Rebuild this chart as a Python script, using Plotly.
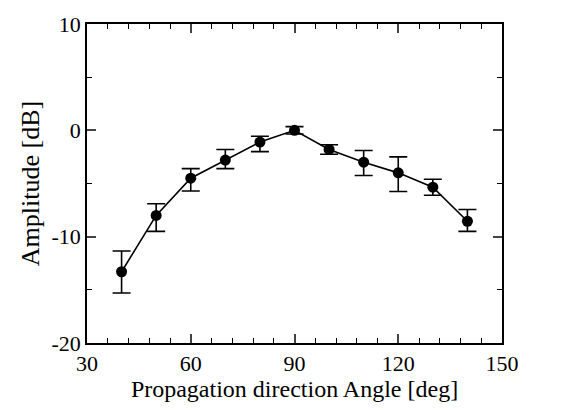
import plotly.graph_objects as go

angles = [40, 50, 60, 70, 80, 90, 100, 110, 120, 130, 140]
amplitude = [-13.3, -8.0, -4.5, -2.8, -1.1, 0.0, -1.8, -3.0, -4.0, -5.35, -8.55]
err_plus = [1.95, 1.1, 0.9, 1.0, 0.55, 0.35, 0.45, 1.1, 1.5, 0.75, 1.1]
err_minus = [2.0, 1.5, 1.2, 0.8, 0.9, 0.35, 0.45, 1.25, 1.75, 0.75, 0.95]

x_ticks = [30, 60, 90, 120, 150]
x_ticktext = ["30", "60", "90", "120", "150"]
y_ticks = [-20, -10, 0, 10]
y_ticktext = ["-20", "-10", "0", "10"]

fig = go.Figure()
fig.add_trace(go.Scatter(
    x=angles, y=amplitude, mode="lines+markers",
    line=dict(color="black", width=1.6),
    marker=dict(color="black", size=11),
    error_y=dict(type="data", symmetric=False, array=err_plus, arrayminus=err_minus,
                 color="black", thickness=1.6, width=9),
    showlegend=False,
))

font = "Liberation Serif, Times New Roman, serif"
fig.update_layout(
    width=561, height=410,
    margin=dict(l=87, r=59, t=21, b=67),
    paper_bgcolor="white", plot_bgcolor="white",
    font=dict(family=font, color="black", size=21),
)
fig.update_xaxes(
    range=[30, 150], tickvals=x_ticks, ticktext=x_ticktext,
    ticks="inside", ticklen=9, tickwidth=1.5,
    showline=True, linecolor="black", linewidth=1.5, mirror="ticks",
    showgrid=False, zeroline=False,
    minor=dict(dtick=6, tick0=30, ticks="inside", ticklen=5, tickwidth=1.2, tickcolor="black", showgrid=False),
    title=dict(text="Propagation direction Angle [deg]", standoff=2, font=dict(size=24)),
    tickfont=dict(size=22),
)
fig.update_yaxes(
    range=[-20, 10], tickvals=y_ticks, ticktext=y_ticktext,
    ticks="inside", ticklen=9, tickwidth=1.5,
    showline=True, linecolor="black", linewidth=1.5, mirror="ticks",
    showgrid=False, zeroline=False,
    minor=dict(dtick=5, tick0=0, ticks="inside", ticklen=5, tickwidth=1.2, tickcolor="black", showgrid=False),
    title=dict(text="Amplitude [dB]", standoff=4, font=dict(size=26)),
    tickfont=dict(size=22),
)
fig.write_html("out.html")
